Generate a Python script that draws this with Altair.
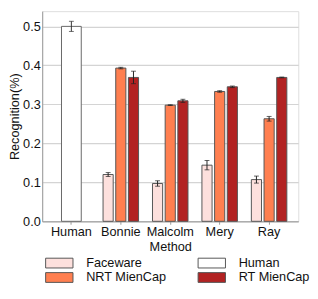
import altair as alt
import pandas as pd

methods = ["Human", "Bonnie", "Malcolm", "Mery", "Ray"]
groups = ["Faceware", "Human", "NRT MienCap", "RT MienCap"]
colors = ["#fde0dd", "#ffffff", "#ff7f50", "#b22222"]

characters = ["Bonnie", "Malcolm", "Mery", "Ray"]
human_value = [0.500]
human_err = [0.013]
faceware = [0.120, 0.097, 0.144, 0.107]
faceware_err = [0.005, 0.007, 0.012, 0.009]
nrt = [0.393, 0.298, 0.333, 0.263]
nrt_err = [0.002, 0.001, 0.002, 0.006]
rt = [0.369, 0.309, 0.345, 0.369]
rt_err = [0.016, 0.004, 0.002, 0.001]

rows = []
rows.append({"Method": "Human", "Group": "Human", "v": human_value[0], "e": human_err[0]})
for name, vals, errs in [("Faceware", faceware, faceware_err),
                         ("NRT MienCap", nrt, nrt_err),
                         ("RT MienCap", rt, rt_err)]:
    for m, v, e in zip(characters, vals, errs):
        rows.append({"Method": m, "Group": name, "v": v, "e": e})
df = pd.DataFrame(rows)
df["lo"] = df["v"] - df["e"]
df["hi"] = df["v"] + df["e"]

FONT = "Liberation Sans"

xenc = alt.X("Method:N", sort=methods,
             scale=alt.Scale(domain=methods, paddingInner=0, paddingOuter=0.09),
             axis=alt.Axis(title="Method", labelAngle=0, labelFontSize=13,
                           titleFontSize=13, titleFontWeight="normal",
                           tickSize=3, tickColor="#999", labelPadding=2,
                           titlePadding=2, domainColor="#999", grid=False,
                           labelColor="#111", titleColor="#111"))
yenc = alt.Y("v:Q", scale=alt.Scale(domain=[0, 0.539], nice=False),
             axis=alt.Axis(title="Recognition(%)", values=[0, 0.1, 0.2, 0.3, 0.4, 0.5],
                           format=".1f", labelFontSize=13, titleFontSize=13,
                           titleFontWeight="normal", ticks=False, labelPadding=2,
                           titlePadding=1, domainColor="#999", gridColor="#d4d4d4",
                           gridWidth=1.2, labelColor="#111", titleColor="#111"))
color = alt.Color("Group:N", scale=alt.Scale(domain=groups, range=colors),
                  legend=alt.Legend(title=None, orient="none", legendX=11, legendY=251,
                                    columns=2, direction="horizontal",
                                    columnPadding=29, rowPadding=0,
                                    symbolType="M-2.8,-1H2.8V1H-2.8Z",
                                    symbolSize=100, symbolStrokeColor="#555",
                                    symbolStrokeWidth=1, labelFontSize=13,
                                    labelOffset=21, labelColor="#111"))
xoff = alt.XOffset("Group:N", scale=alt.Scale(domain=["Faceware", "NRT MienCap", "RT MienCap"],
                                              paddingInner=0.2, paddingOuter=0.55))

human = df[df["Group"] == "Human"]
others = df[df["Group"] != "Human"]

hbar = alt.Chart(human).mark_bar(width=alt.RelativeBandSize(0.4), stroke="#666",
                                 strokeWidth=1).encode(x=xenc, y=yenc, color=color)
hrule = alt.Chart(human).mark_rule(color="#333", strokeWidth=1).encode(
    x=alt.X("Method:N", sort=methods), y="lo:Q", y2="hi:Q")
hcap1 = alt.Chart(human).mark_tick(orient="horizontal", size=5, thickness=1, color="#333").encode(
    x=alt.X("Method:N", sort=methods), y="lo:Q")
hcap2 = alt.Chart(human).mark_tick(orient="horizontal", size=5, thickness=1, color="#333").encode(
    x=alt.X("Method:N", sort=methods), y="hi:Q")

obar = alt.Chart(others).mark_bar(stroke="#555", strokeWidth=1).encode(
    x=xenc, xOffset=xoff, y=yenc, color=color)
orule = alt.Chart(others).mark_rule(color="#222", strokeWidth=1).encode(
    x=alt.X("Method:N", sort=methods), xOffset=xoff, y="lo:Q", y2="hi:Q")
ocap1 = alt.Chart(others).mark_tick(orient="horizontal", size=5, thickness=1, color="#222").encode(
    x=alt.X("Method:N", sort=methods), xOffset=xoff, y="lo:Q")
ocap2 = alt.Chart(others).mark_tick(orient="horizontal", size=5, thickness=1, color="#222").encode(
    x=alt.X("Method:N", sort=methods), xOffset=xoff, y="hi:Q")

chart = alt.layer(hbar, obar, hrule, hcap1, hcap2, orule, ocap1, ocap2).properties(
    width=262, height=215, padding={"left": 0, "top": 0, "right": 0, "bottom": 0}
).configure_view(stroke="#555", strokeWidth=1.2).configure(font=FONT)

chart.save("out.html", embed_options={"renderer": "svg", "actions": False})
